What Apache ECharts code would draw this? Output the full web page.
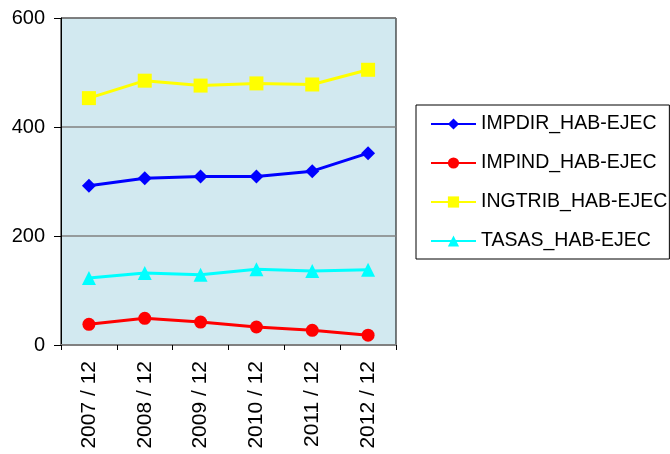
<!DOCTYPE html>
<html><head><meta charset="utf-8">
<script src="https://cdn.jsdelivr.net/npm/echarts@6/dist/echarts.min.js"></script>
<style>html,body{margin:0;padding:0;background:#fff}#c{width:670px;height:454px}</style>
</head><body><div id="c"></div>
<script>
var categories = ['2007 / 12','2008 / 12','2009 / 12','2010 / 12','2011 / 12','2012 / 12'];
var impdir = [292, 306, 309, 309, 319, 352];
var impind = [38, 49, 42, 33, 27, 18];
var ingtrib = [453, 485, 476, 480, 478, 505];
var tasas = [123, 132, 129, 139, 136, 138];
var yTicks = [0, 200, 400, 600];

var chart = echarts.init(document.getElementById('c'));
function mk(name, data, color, symbol, size){
  return {name:name, type:'line', data:data, symbol:symbol, symbolSize:size,
    lineStyle:{color:color, width:3}, itemStyle:{color:color}, animation:false};
}
var FF = 'Liberation Sans, Arial, sans-serif';
chart.setOption({
  animation:false,
  textStyle:{fontFamily:FF},
  grid:{left:61, top:18, width:335, height:327, show:true, backgroundColor:'#D2E9F0', borderColor:'#000', borderWidth:1},
  legend:{orient:'vertical', left:416, top:105, padding:[9,2,8,14], itemGap:19, itemWidth:45, itemHeight:14,
    borderColor:'#000', borderWidth:1,
    textStyle:{fontSize:19.5, color:'#000', fontFamily:FF},
    data:['IMPDIR_HAB-EJEC','IMPIND_HAB-EJEC','INGTRIB_HAB-EJEC','TASAS_HAB-EJEC']},
  xAxis:{type:'category', data:categories, boundaryGap:true,
    axisLine:{lineStyle:{color:'#808080', width:2}},
    axisTick:{show:true, length:5, lineStyle:{color:'#000'}},
    axisLabel:{rotate:90, fontSize:21, color:'#000', margin:16}},
  yAxis:{type:'value', min:yTicks[0], max:yTicks[yTicks.length-1], interval:200,
    axisLine:{show:true, lineStyle:{color:'#000'}},
    axisTick:{show:true, length:7, lineStyle:{color:'#000'}},
    axisLabel:{fontSize:20, color:'#000', margin:16},
    splitLine:{show:true, lineStyle:{color:'#808080', width:1.5}}},
  series:[
    mk('IMPDIR_HAB-EJEC', impdir, '#0000FF', 'diamond', 14),
    mk('IMPIND_HAB-EJEC', impind, '#FF0000', 'circle', 13),
    mk('INGTRIB_HAB-EJEC', ingtrib, '#FFFF00', 'rect', 14),
    mk('TASAS_HAB-EJEC', tasas, '#00FFFF', 'triangle', 14)
  ]
});
</script></body></html>
